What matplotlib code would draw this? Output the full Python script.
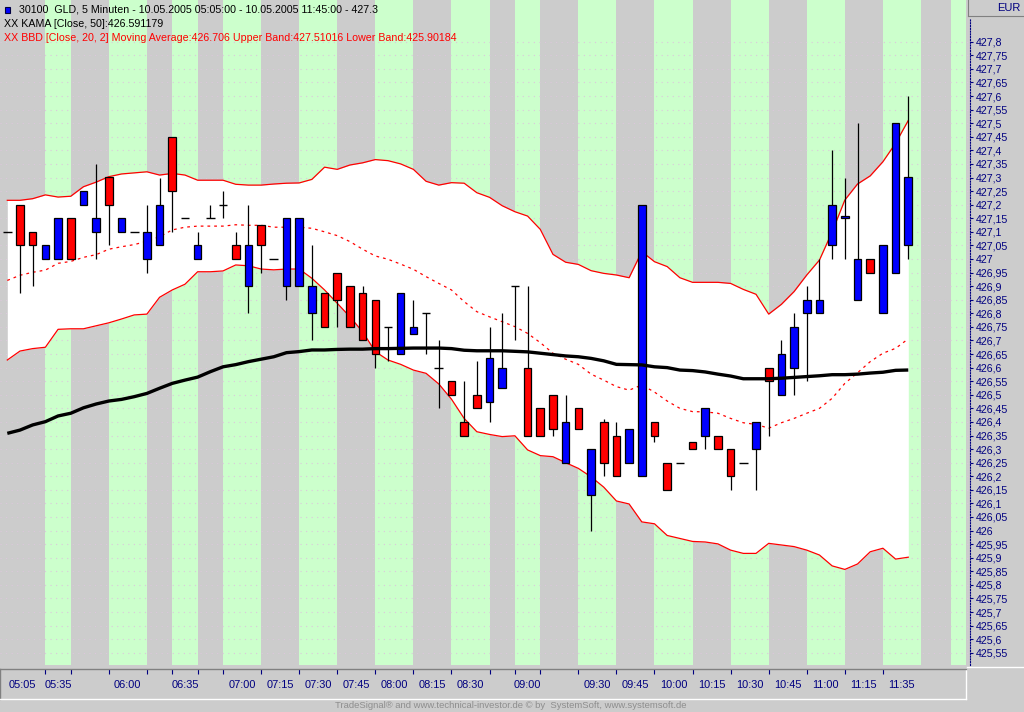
import matplotlib
matplotlib.use("Agg")
import matplotlib.pyplot as plt
from matplotlib.lines import Line2D
from matplotlib.patches import Rectangle
from matplotlib.transforms import blended_transform_factory
import numpy as np

# ---------------- data ----------------
opens = [427.1, 427.2, 427.1, 427.0, 427.0, 427.15, 427.2, 427.1, 427.3, 427.1,
         427.1, 427.0, 427.05, 427.45, 427.15, 427.0, 427.15, 427.2, 427.05, 426.9,
         427.125, 427.0, 426.9, 426.9, 426.8, 426.875, 426.95, 426.9, 426.875, 426.85,
         426.75, 426.65, 426.725, 426.8, 426.6, 426.55, 426.4, 426.5, 426.475, 426.525,
         426.9, 426.6, 426.45, 426.5, 426.25, 426.45, 426.13, 426.4, 426.35, 426.25,
         426.2, 426.4, 426.25, 426.25, 426.325, 426.35, 426.35, 426.3, 426.25, 426.3,
         426.6, 426.5, 426.6, 426.8, 426.8, 427.05, 427.15, 426.85, 427.0, 426.8,
         426.95, 427.05]
highs = [427.1, 427.2, 427.1, 427.05, 427.15, 427.15, 427.25, 427.35, 427.3, 427.15,
         427.1, 427.2, 427.3, 427.45, 427.15, 427.1, 427.2, 427.25, 427.1, 427.2,
         427.125, 427.0, 427.15, 427.15, 427.05, 426.875, 426.95, 426.9, 426.9, 426.85,
         426.75, 426.875, 426.85, 426.8, 426.7, 426.55, 426.55, 426.625, 426.75, 426.8,
         426.9, 426.9, 426.45, 426.5, 426.5, 426.45, 426.3, 426.41, 426.4, 426.375,
         427.2, 426.4, 426.25, 426.25, 426.325, 426.45, 426.35, 426.3, 426.25, 426.4,
         426.6, 426.7, 426.8, 426.9, 427.0, 427.4, 427.3, 427.5, 427.0, 427.05,
         427.5, 427.6]
lows = [427.1, 426.875, 426.9, 427.0, 427.0, 427.0, 427.2, 427.0, 427.05, 427.1,
        427.1, 426.95, 427.05, 427.1, 427.15, 427.0, 427.15, 427.15, 427.0, 426.8,
        426.95, 427.0, 426.85, 426.9, 426.7, 426.75, 426.75, 426.75, 426.7, 426.6,
        426.625, 426.65, 426.725, 426.65, 426.45, 426.5, 426.35, 426.45, 426.4, 426.525,
        426.7, 426.35, 426.35, 426.35, 426.25, 426.375, 426.0, 426.2, 426.2, 426.25,
        426.2, 426.325, 426.15, 426.25, 426.3, 426.3, 426.3, 426.15, 426.25, 426.15,
        426.35, 426.5, 426.5, 426.55, 426.8, 427.0, 427.0, 426.85, 426.95, 426.8,
        426.95, 427.0]
closes = [427.1, 427.05, 427.05, 427.05, 427.15, 427.0, 427.25, 427.15, 427.2, 427.15,
          427.1, 427.1, 427.2, 427.25, 427.15, 427.05, 427.15, 427.2, 427.0, 427.05,
          427.05, 427.0, 427.15, 427.15, 426.9, 426.75, 426.85, 426.75, 426.7, 426.65,
          426.75, 426.875, 426.75, 426.8, 426.6, 426.5, 426.35, 426.45, 426.635, 426.6,
          426.9, 426.35, 426.35, 426.375, 426.4, 426.375, 426.3, 426.25, 426.2, 426.375,
          427.2, 426.35, 426.15, 426.25, 426.3, 426.45, 426.3, 426.2, 426.25, 426.4,
          426.55, 426.65, 426.75, 426.85, 426.85, 427.2, 427.158, 427.0, 426.95, 427.05,
          427.5, 427.3]

bb_upper = [427.216, 427.216, 427.222, 427.236, 427.228, 427.231, 427.266, 427.283, 427.303, 427.313,
            427.317, 427.321, 427.309, 427.315, 427.309, 427.290, 427.290, 427.290, 427.275, 427.272,
            427.272, 427.276, 427.279, 427.280, 427.293, 427.338, 427.330, 427.346, 427.354, 427.366,
            427.362, 427.350, 427.330, 427.286, 427.272, 427.281, 427.279, 427.244, 427.227, 427.196,
            427.174, 427.158, 427.109, 427.017, 426.988, 426.980, 426.957, 426.947, 426.941, 426.931,
            427.027, 426.990, 426.972, 426.931, 426.914, 426.914, 426.914, 426.910, 426.888, 426.870,
            426.797, 426.833, 426.880, 426.941, 426.996, 427.100, 427.217, 427.276, 427.306, 427.358,
            427.426, 427.510]
bb_middle = [426.921, 426.940, 426.951, 426.959, 426.984, 426.991, 427.006, 427.016, 427.036, 427.045,
             427.053, 427.065, 427.082, 427.107, 427.117, 427.121, 427.121, 427.121, 427.126, 427.124,
             427.124, 427.117, 427.117, 427.117, 427.113, 427.100, 427.086, 427.064, 427.036, 427.011,
             426.999, 426.981, 426.962, 426.935, 426.910, 426.886, 426.843, 426.806, 426.787, 426.769,
             426.751, 426.726, 426.692, 426.653, 426.631, 426.612, 426.576, 426.554, 426.530, 426.517,
             426.536, 426.510, 426.477, 426.450, 426.438, 426.437, 426.432, 426.413, 426.397, 426.391,
             426.377, 426.397, 426.413, 426.432, 426.450, 426.487, 426.542, 426.581, 426.622, 426.653,
             426.671, 426.706]
bb_lower = [426.628, 426.661, 426.670, 426.675, 426.741, 426.743, 426.743, 426.754, 426.765, 426.779,
            426.794, 426.797, 426.859, 426.886, 426.907, 426.953, 426.953, 426.956, 426.978, 426.975,
            426.963, 426.960, 426.963, 426.963, 426.929, 426.886, 426.837, 426.787, 426.732, 426.659,
            426.628, 426.612, 426.591, 426.579, 426.540, 426.484, 426.413, 426.364, 426.354, 426.346,
            426.349, 426.297, 426.276, 426.272, 426.250, 426.229, 426.198, 426.160, 426.109, 426.098,
            426.032, 426.025, 425.982, 425.971, 425.960, 425.958, 425.951, 425.928, 425.916, 425.916,
            425.953, 425.947, 425.941, 425.928, 425.910, 425.870, 425.857, 425.877, 425.922, 425.935,
            425.895, 425.902]
kama = [426.358, 426.370, 426.389, 426.401, 426.422, 426.432, 426.452, 426.466, 426.477, 426.483,
        426.493, 426.505, 426.524, 426.542, 426.554, 426.565, 426.585, 426.603, 426.611, 426.622,
        426.631, 426.640, 426.655, 426.659, 426.665, 426.665, 426.667, 426.668, 426.668, 426.670,
        426.670, 426.671, 426.672, 426.672, 426.672, 426.670, 426.664, 426.662, 426.662, 426.662,
        426.660, 426.658, 426.653, 426.648, 426.643, 426.640, 426.634, 426.625, 426.612, 426.611,
        426.610, 426.603, 426.600, 426.591, 426.589, 426.584, 426.576, 426.569, 426.559, 426.559,
        426.559, 426.561, 426.564, 426.567, 426.570, 426.574, 426.574, 426.576, 426.580, 426.583,
        426.590, 426.591179]

# time-period stripes (bar-index boundaries) and their labels
stripe_edges = [3, 5, 8, 11, 13, 15, 17, 20, 23, 26, 29, 32, 35, 38, 40, 42, 45, 48,
                51, 54, 57, 60, 63, 66, 69, 72, 74.4]
time_labels = ["05:05", "05:35", "", "06:00", "", "06:35", "", "07:00", "07:15", "07:30",
               "07:45", "08:00", "08:15", "08:30", "", "09:00", "", "09:30", "09:45", "10:00",
               "10:15", "10:30", "10:45", "11:00", "11:15", "11:35", "", ""]
tick_edges = stripe_edges[:-2]

price_ticks = np.round(np.arange(425.55, 427.8001, 0.05), 2)

title_line = "30100  GLD, 5 Minuten - 10.05.2005 05:05:00 - 10.05.2005 11:45:00 - 427.3"
kama_line = "XX KAMA [Close, 50]:426.591179"
bb_line = "XX BBD [Close, 20, 2] Moving Average:426.706 Upper Band:427.51016 Lower Band:425.90184"
footer = "TradeSignal\u00ae and www.technical-investor.de \u00a9 by  SystemSoft, www.systemsoft.de"

# ---------------- style ----------------
GRAY = "#cccccc"
GREEN = "#ccffcc"
RED = "#ff0000"
BLUE = "#0000ff"
NAVY = "#000080"
FS = 7.7
plt.rcParams['font.family'] = ['Liberation Sans', 'DejaVu Sans']

W, H = 1024, 712
fig = plt.figure(figsize=(W / 100, H / 100), dpi=100)
fig.patch.set_facecolor(GRAY)


def fx(px):
    return px / W


def fy(py):
    return 1 - py / H


# geometry in pixels
BAR0_PX = 7.3
BAR_SP = 12.69
CHART_R = 970
CHART_BOTTOM = 665
STRIPE_R = 966


def idx(px):
    return (px - BAR0_PX) / BAR_SP


Y_TOP = 427.8 + 41.7 / 271.6
Y_BOT = 427.8 - (CHART_BOTTOM - 41.7) / 271.6

ax = fig.add_axes([0, fy(CHART_BOTTOM), fx(CHART_R), CHART_BOTTOM / H])
ax.set_facecolor(GRAY)
ax.set_xlim(idx(0), idx(CHART_R))
ax.set_ylim(Y_BOT, Y_TOP)

# stripes
edges = [idx(0)] + stripe_edges + [idx(STRIPE_R)]
for k in range(len(edges) - 1):
    ax.axvspan(edges[k], edges[k + 1], color=GRAY if k % 2 == 0 else GREEN,
               lw=0, zorder=0.1)

# grid
ax.set_yticks(price_ticks)
ax.set_yticklabels([f"{v:.2f}".rstrip('0').rstrip('.').replace('.', ',') for v in price_ticks])
ax.yaxis.tick_right()
ax.tick_params(axis='y', direction='out', length=2.4, width=0.8, colors=NAVY,
               labelsize=FS, pad=1.5, labelcolor=NAVY)
ax.set_xticks([])
ax.set_axisbelow(True)
ax.grid(axis='y', color='#dcc8dc', linestyle=(0, (1, 4)), linewidth=0.8)
for s in ['top', 'left', 'bottom']:
    ax.spines[s].set_visible(False)
ax.spines['right'].set_color(NAVY)
ax.spines['right'].set_linestyle((0, (1, 1.5)))
ax.spines['right'].set_linewidth(0.8)
ax.spines['right'].set_bounds(Y_BOT, 427.8 + (41.7 - 18) / 271.6)

x = np.arange(len(opens))
o = np.array(opens)
h = np.array(highs)
l = np.array(lows)
c = np.array(closes)

# Bollinger band
ax.fill_between(x, bb_lower, bb_upper, color='white', lw=0, zorder=1)
ax.plot(x, bb_upper, color=RED, lw=0.9, zorder=2)
ax.plot(x, bb_lower, color=RED, lw=0.9, zorder=2)
ax.plot(x, bb_middle, color=RED, lw=0.9, linestyle=(0, (2.2, 3.2)), zorder=2)

# candles
BW = 0.6
up = c > o
dn = c < o
flat = c == o
ax.vlines(x, l, h, colors='black', lw=0.9, zorder=3)
ax.bar(x[up], (c - o)[up], bottom=o[up], width=BW, color=BLUE, edgecolor='black',
       linewidth=0.9, zorder=4)
ax.bar(x[dn], (o - c)[dn], bottom=c[dn], width=BW, color=RED, edgecolor='black',
       linewidth=0.9, zorder=4)
ax.hlines(o[flat], x[flat] - BW / 2 - 0.04, x[flat] + BW / 2 + 0.04, colors='black',
          lw=1.0, zorder=4)

# KAMA
ax.plot(x, kama, color='black', lw=2.4, zorder=5, solid_capstyle='butt')

# ---------------- bottom time axis ----------------
axb = fig.add_axes([0, fy(699), fx(STRIPE_R), 30 / H])
axb.set_facecolor(GRAY)
axb.set_xlim(idx(0), idx(STRIPE_R))
axb.set_ylim(0, 1)
axb.set_yticks([])
axb.xaxis.set_ticks_position('top')
axb.set_xticks(tick_edges)
axb.set_xticklabels([])
axb.tick_params(axis='x', direction='in', length=3.6, width=0.8, colors=NAVY)
axb.spines['top'].set_color('#808080')
axb.spines['left'].set_color('#808080')
axb.spines['bottom'].set_color('white')
axb.spines['right'].set_color('white')
for s in axb.spines.values():
    s.set_linewidth(1.0)
trans = blended_transform_factory(axb.transData, axb.transAxes)
for k, lab in enumerate(time_labels):
    if lab:
        axb.text((edges[k] + edges[k + 1]) / 2, 0.47, lab, transform=trans,
                 ha='center', va='center', fontsize=FS + 0.2, color=NAVY)

# ---------------- header texts ----------------
fig.add_artist(Rectangle((fx(4.5), fy(12.5)), 5.5 / W, 5.5 / H, transform=fig.transFigure,
                         facecolor=BLUE, edgecolor='#000040', lw=0.8))
fig.text(fx(19), fy(9.8), title_line, fontsize=FS, color='black', ha='left', va='center')
fig.text(fx(4), fy(24), kama_line, fontsize=FS, color='black', ha='left', va='center')
fig.text(fx(4), fy(38), bb_line, fontsize=FS, color=RED, ha='left', va='center')

# EUR box on the price scale
fig.add_artist(Rectangle((fx(968), fy(16)), 56 / W, 16 / H, transform=fig.transFigure,
                         facecolor=GRAY, edgecolor='none', zorder=10))
fig.add_artist(Line2D([fx(968), fx(968)], [fy(0), fy(16)], transform=fig.transFigure,
                      color='#808080', lw=0.8, zorder=11))
fig.add_artist(Line2D([fx(968), fx(1024)], [fy(16), fy(16)], transform=fig.transFigure,
                      color='#808080', lw=0.8, zorder=11))
fig.text(fx(1021), fy(8), "EUR", fontsize=FS + 0.3, color=NAVY, ha='right', va='center',
         zorder=12)
fig.add_artist(Line2D([fx(967), fx(1024)], [fy(666.5), fy(666.5)], transform=fig.transFigure,
                      color='white', lw=1.0))

fig.text(fx(511), fy(705), footer, fontsize=6.8, color='#8e8e8e', ha='center', va='center')

fig.savefig("out.png", dpi=100, facecolor=fig.get_facecolor())
